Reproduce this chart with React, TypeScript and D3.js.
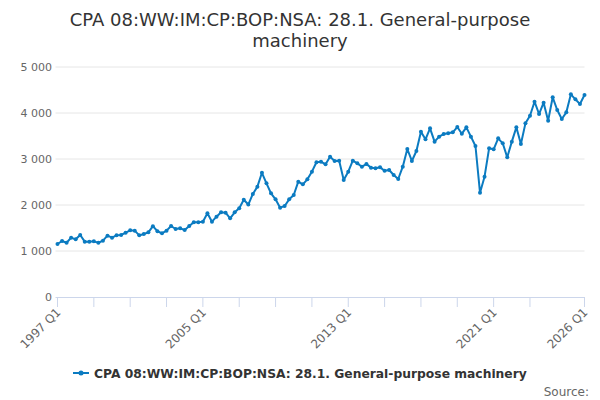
import * as d3 from "d3";

// quarterly series, 1997 Q1 .. 2026 Q1
const startYear = 1997;
const values = [
  1152, 1217, 1180, 1290, 1254, 1348, 1203, 1203, 1210, 1180, 1225, 1333,
  1290, 1340, 1348, 1398, 1449, 1442, 1340, 1369, 1406, 1540, 1430, 1384,
  1442, 1543, 1478, 1493, 1457, 1543, 1623, 1623, 1638, 1819, 1638, 1746,
  1841, 1833, 1710, 1841, 1928, 2115, 2010, 2240, 2399, 2700, 2471, 2254,
  2123, 1942, 1978, 2123, 2217, 2507, 2449, 2558, 2725, 2928, 2942, 2884,
  3051, 2957, 2964, 2543, 2725, 2964, 2906, 2833, 2891, 2812, 2797, 2819,
  2746, 2761, 2652, 2565, 2833, 3217, 2957, 3174, 3594, 3428, 3667, 3377,
  3486, 3543, 3558, 3580, 3695, 3550, 3688, 3486, 3283, 2268, 2616, 3232,
  3210, 3449, 3341, 3036, 3377, 3688, 3326, 3775, 3940, 4246, 3978, 4224,
  3833, 4341, 4065, 3870, 4014, 4406, 4297, 4196, 4391,
];
const yTicks = [0, 1000, 2000, 3000, 4000, 5000];
const minorTicks = [0, 8, 16, 24, 32, 40, 48, 56, 64, 72, 80, 88, 96, 104, 116];
const labelTicks = [0, 32, 64, 96, 116];

const title = ["CPA 08:WW:IM:CP:BOP:NSA: 28.1. General-purpose", "machinery"];
const seriesName = "CPA 08:WW:IM:CP:BOP:NSA: 28.1. General-purpose machinery";

const font = "DejaVu Sans, Verdana, sans-serif";
const blue = "#0b7bc1";

const quarterLabel = (i: number) =>
  `${startYear + Math.floor(i / 4)} Q${(i % 4) + 1}`;

export default function App() {
  const width = 600;
  const height = 400;
  const m = { left: 57.5, right: 584.5, top: 67, bottom: 297 };

  const x = d3.scaleLinear().domain([0, values.length - 1]).range([m.left, m.right]);
  const y = d3.scaleLinear().domain([0, 5000]).range([m.bottom, m.top]);
  const line = d3
    .line<number>()
    .x((_, i) => x(i))
    .y((d) => y(d));

  return (
    <svg
      width={width}
      height={height}
      style={{ position: "absolute", left: 0, top: 0, fontFamily: font }}
    >
      <rect width={width} height={height} fill="#fff" />
      {title.map((t, i) => (
        <text
          key={t}
          x={300}
          y={26 + i * 21}
          textAnchor="middle"
          fontSize={18}
          fill="#333333"
        >
          {t}
        </text>
      ))}

      {yTicks.map((t) => (
        <g key={t}>
          {t > 0 && (
            <line x1={m.left - 2} x2={m.right} y1={y(t)} y2={y(t)} stroke="#e6e6e6" />
          )}
          <text x={52} y={y(t) + 4} textAnchor="end" fontSize={11} fill="#666666">
            {d3.format(",")(t).replace(/,/g, " ")}
          </text>
        </g>
      ))}

      <line x1={m.left - 2} x2={m.right} y1={m.bottom + 0.5} y2={m.bottom + 0.5} stroke="#ccd6eb" />
      {minorTicks.map((i) => (
        <line
          key={i}
          x1={x(i)}
          x2={x(i)}
          y1={m.bottom}
          y2={m.bottom + 10}
          stroke="#ccd6eb"
        />
      ))}
      {labelTicks.map((i) => (
        <text
          key={i}
          transform={`translate(${x(i) + 4},${m.bottom + 16}) rotate(-45)`}
          textAnchor="end"
          fontSize={12}
          fill="#666666"
        >
          {quarterLabel(i)}
        </text>
      ))}

      <path d={line(values) ?? ""} fill="none" stroke={blue} strokeWidth={2} strokeLinejoin="round" />
      {values.map((v, i) => (
        <circle key={i} cx={x(i)} cy={y(v)} r={2} fill={blue} />
      ))}

      <g transform="translate(73,373)">
        <line x1={0} x2={16} y1={0} y2={0} stroke={blue} strokeWidth={2} />
        <circle cx={8} cy={0} r={2.5} fill={blue} />
        <text x={21} y={4.5} fontSize={12.3} fontWeight="bold" fill="#333333">
          {seriesName}
        </text>
      </g>

      <text x={589} y={396} textAnchor="end" fontSize={12} fill="#666666">
        Source:
      </text>
    </svg>
  );
}
